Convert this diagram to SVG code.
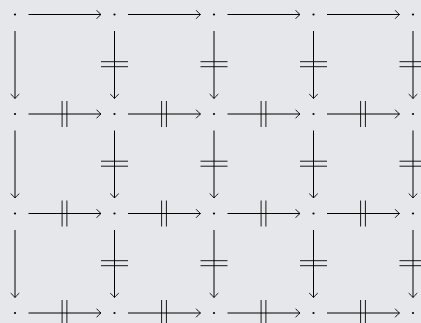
<svg xmlns="http://www.w3.org/2000/svg" width="421" height="323" viewBox="0 0 421 323">
<style>
.bg{fill:#e5e7eb}
.dot{fill:#000}
.ln{stroke:#000;stroke-width:1;fill:none}
.st{stroke:#000;stroke-width:0.9;fill:none}
</style>
<defs>
<marker id="ah" markerUnits="userSpaceOnUse" markerWidth="12" markerHeight="12" refX="6" refY="6" orient="auto" viewBox="0 0 12 12">
<path d="M1.6,1.7 Q4.5,5 6,6 Q4.5,7 1.6,10.3" stroke="#000" stroke-width="0.9" fill="none"/>
</marker>
<g id="hs"><line x1="-2.4" y1="-13" x2="-2.4" y2="13"/><line x1="2.4" y1="-13" x2="2.4" y2="13"/></g>
<g id="vs"><line x1="-13.5" y1="-2.5" x2="13.5" y2="-2.5"/><line x1="-13.5" y1="2.5" x2="13.5" y2="2.5"/></g>
</defs>
<rect class="bg" x="0" y="0" width="421" height="323"/>
<g id="nodes">
<g id="n00"><circle class="dot" cx="15" cy="14.5" r="1.1"/></g>
<g id="n01"><circle class="dot" cx="114.5" cy="14.5" r="1.1"/></g>
<g id="n02"><circle class="dot" cx="214" cy="14.5" r="1.1"/></g>
<g id="n03"><circle class="dot" cx="313.5" cy="14.5" r="1.1"/></g>
<g id="n04"><circle class="dot" cx="413" cy="14.5" r="1.1"/></g>
<g id="n10"><circle class="dot" cx="15" cy="114" r="1.1"/></g>
<g id="n11"><circle class="dot" cx="114.5" cy="114" r="1.1"/></g>
<g id="n12"><circle class="dot" cx="214" cy="114" r="1.1"/></g>
<g id="n13"><circle class="dot" cx="313.5" cy="114" r="1.1"/></g>
<g id="n14"><circle class="dot" cx="413" cy="114" r="1.1"/></g>
<g id="n20"><circle class="dot" cx="15" cy="213.5" r="1.1"/></g>
<g id="n21"><circle class="dot" cx="114.5" cy="213.5" r="1.1"/></g>
<g id="n22"><circle class="dot" cx="214" cy="213.5" r="1.1"/></g>
<g id="n23"><circle class="dot" cx="313.5" cy="213.5" r="1.1"/></g>
<g id="n24"><circle class="dot" cx="413" cy="213.5" r="1.1"/></g>
<g id="n30"><circle class="dot" cx="15" cy="313" r="1.1"/></g>
<g id="n31"><circle class="dot" cx="114.5" cy="313" r="1.1"/></g>
<g id="n32"><circle class="dot" cx="214" cy="313" r="1.1"/></g>
<g id="n33"><circle class="dot" cx="313.5" cy="313" r="1.1"/></g>
<g id="n34"><circle class="dot" cx="413" cy="313" r="1.1"/></g>
</g>
<g id="connectors" class="ln" marker-end="url(#ah)">
<line x1="28.5" y1="14.5" x2="101" y2="14.5"/>
<line x1="128" y1="14.5" x2="200.5" y2="14.5"/>
<line x1="227.5" y1="14.5" x2="300" y2="14.5"/>
<line x1="327" y1="14.5" x2="399.5" y2="14.5"/>
<line x1="28.5" y1="114" x2="101" y2="114"/>
<line x1="128" y1="114" x2="200.5" y2="114"/>
<line x1="227.5" y1="114" x2="300" y2="114"/>
<line x1="327" y1="114" x2="399.5" y2="114"/>
<line x1="28.5" y1="213.5" x2="101" y2="213.5"/>
<line x1="128" y1="213.5" x2="200.5" y2="213.5"/>
<line x1="227.5" y1="213.5" x2="300" y2="213.5"/>
<line x1="327" y1="213.5" x2="399.5" y2="213.5"/>
<line x1="28.5" y1="313" x2="101" y2="313"/>
<line x1="128" y1="313" x2="200.5" y2="313"/>
<line x1="227.5" y1="313" x2="300" y2="313"/>
<line x1="327" y1="313" x2="399.5" y2="313"/>
<line x1="15" y1="31" x2="15" y2="98.5"/>
<line x1="114.5" y1="31" x2="114.5" y2="98.5"/>
<line x1="214" y1="31" x2="214" y2="98.5"/>
<line x1="313.5" y1="31" x2="313.5" y2="98.5"/>
<line x1="413" y1="31" x2="413" y2="98.5"/>
<line x1="15" y1="130.5" x2="15" y2="198"/>
<line x1="114.5" y1="130.5" x2="114.5" y2="198"/>
<line x1="214" y1="130.5" x2="214" y2="198"/>
<line x1="313.5" y1="130.5" x2="313.5" y2="198"/>
<line x1="413" y1="130.5" x2="413" y2="198"/>
<line x1="15" y1="230" x2="15" y2="297.5"/>
<line x1="114.5" y1="230" x2="114.5" y2="297.5"/>
<line x1="214" y1="230" x2="214" y2="297.5"/>
<line x1="313.5" y1="230" x2="313.5" y2="297.5"/>
<line x1="413" y1="230" x2="413" y2="297.5"/>
</g>
<g id="strikes" class="st">
<use href="#hs" x="64.5" y="114"/><use href="#hs" x="164" y="114"/><use href="#hs" x="263.5" y="114"/><use href="#hs" x="363" y="114"/>
<use href="#hs" x="64.5" y="213.5"/><use href="#hs" x="164" y="213.5"/><use href="#hs" x="263.5" y="213.5"/><use href="#hs" x="363" y="213.5"/>
<use href="#hs" x="64.5" y="313"/><use href="#hs" x="164" y="313"/><use href="#hs" x="263.5" y="313"/><use href="#hs" x="363" y="313"/>
<use href="#vs" x="114.5" y="64.2"/><use href="#vs" x="214" y="64.2"/><use href="#vs" x="313.5" y="64.2"/><use href="#vs" x="413" y="64.2"/>
<use href="#vs" x="114.5" y="163.7"/><use href="#vs" x="214" y="163.7"/><use href="#vs" x="313.5" y="163.7"/><use href="#vs" x="413" y="163.7"/>
<use href="#vs" x="114.5" y="263.2"/><use href="#vs" x="214" y="263.2"/><use href="#vs" x="313.5" y="263.2"/><use href="#vs" x="413" y="263.2"/>
</g>
</svg>
